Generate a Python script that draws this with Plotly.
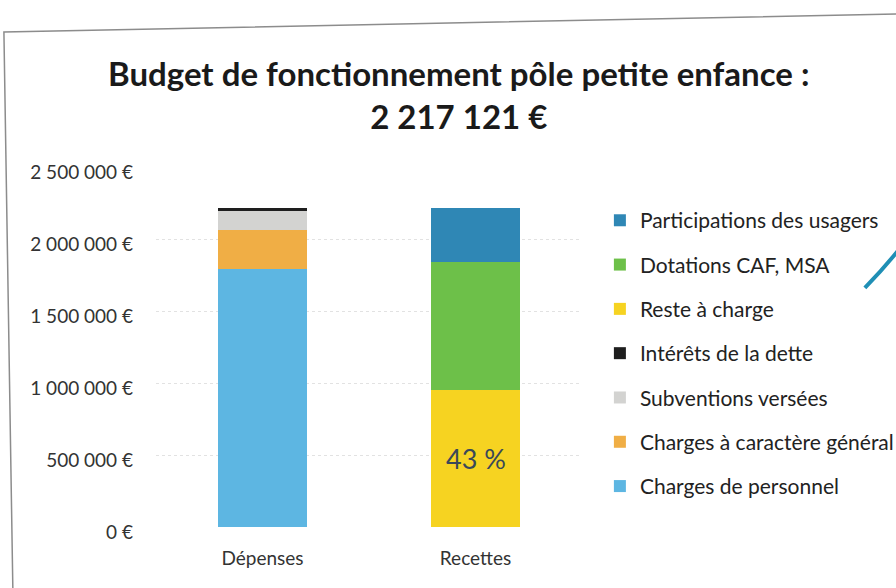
import plotly.graph_objects as go

categories = ["Dépenses", "Recettes"]

# series (values in €), bottom to top
charges_personnel = [1790000, 0]
charges_generales = [275000, 0]
subventions = [128000, 0]
interets = [24000, 0]
reste_a_charge = [0, 953000]
dotations = [0, 890000]
participations = [0, 374000]

series = [
    ("Charges de personnel", charges_personnel, "#5DB6E2"),
    ("Charges à caractère général", charges_generales, "#F0AE45"),
    ("Subventions versées", subventions, "#D3D3D1"),
    ("Intérêts de la dette", interets, "#1E1E1E"),
    ("Reste à charge", reste_a_charge, "#F6D321"),
    ("Dotations CAF, MSA", dotations, "#6DC049"),
    ("Participations des usagers", participations, "#2F87B5"),
]

y_ticks = [0, 500000, 1000000, 1500000, 2000000, 2500000]
y_tick_labels = ["0 €", "500 000 €", "1 000 000 €", "1 500 000 €", "2 000 000 €", "2 500 000 €"]

pct_label = "43 %"

FONT = "Lato"

fig = go.Figure()
for i, (name, vals, color) in enumerate(series):
    fig.add_trace(go.Bar(
        x=categories, y=vals, name=name, legendgroup=name,
        legendrank=1000 - i,
        marker=dict(color=color, line=dict(width=0)),
    ))

fig.add_annotation(x=categories[1], y=reste_a_charge[1] * 0.5, text=pct_label,
                   showarrow=False, font=dict(family=FONT, size=27, color="#3A4859"))

fig.update_layout(
    width=896, height=588,
    barmode="stack", bargap=0.582,
    paper_bgcolor="white", plot_bgcolor="white",
    margin=dict(l=156, r=314, t=167, b=61, autoexpand=False),
    title=dict(text="<b>Budget de fonctionnement pôle petite enfance :<br>2 217 121 €</b>",
               x=0.512, xanchor="center", y=0.854, yanchor="top",
               font=dict(family=FONT, size=33, color="#1A1A1A")),
    font=dict(family=FONT, size=19, color="#333333"),
    legend=dict(x=1.042, xanchor="left", y=0.908, yanchor="top",
                traceorder="grouped", tracegroupgap=14,
                bgcolor="rgba(0,0,0,0)",
                font=dict(family=FONT, size=21, color="#222222"),
                itemwidth=30),
    showlegend=True,
)
fig.update_yaxes(range=[0, 2500000], tickvals=y_ticks, ticktext=y_tick_labels,
                 showgrid=True, gridcolor="#E2E2E2", griddash="dot", gridwidth=1,
                 zeroline=False, ticklabelstandoff=22, ticklabelshift=5,
                 tickfont=dict(size=19))
fig.update_xaxes(showline=False, ticklabelstandoff=18, tickfont=dict(size=19))

# scan frame (slightly tilted, as in the scanned page)
fig.add_shape(type="path", xref="paper", yref="paper",
              path="M -0.336 -0.175 L -0.357 1.375 L 1.746 1.425",
              line=dict(color="#8C8C8C", width=1.5))
# decorative swoosh
fig.add_shape(type="path", xref="paper", yref="paper",
              path="M 1.664 0.664 Q 1.709 0.719 1.745 0.772",
              line=dict(color="#1F8FB5", width=4))

fig.write_html("out.html", config={"displayModeBar": False},
               post_script="document.body.style.margin='0px';document.body.style.overflow='hidden';")
